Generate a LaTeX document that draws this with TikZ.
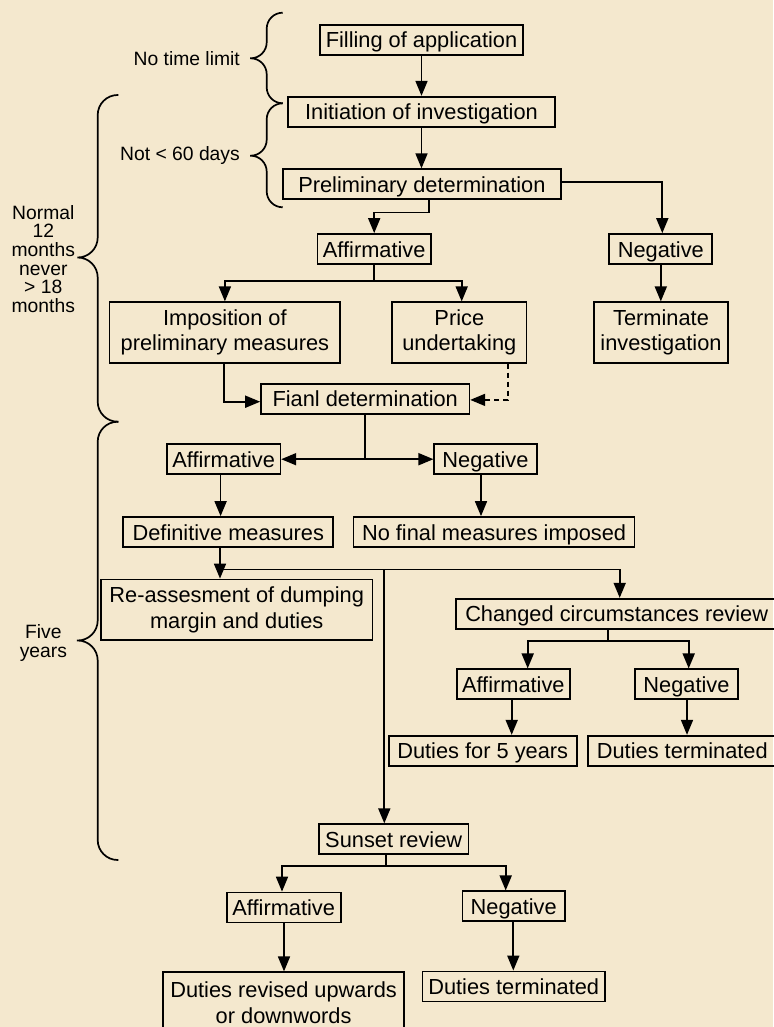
\documentclass[tikz,border=0pt]{standalone}
\usepackage{fontspec}
\setmainfont{Liberation Sans}
\usetikzlibrary{arrows.meta}
\definecolor{paper}{HTML}{F4E8CE}
\newcommand*{\picW}{773}
\newcommand*{\picH}{1027}

\tikzset{
  box/.style={draw, line width=1.7pt, inner xsep=0pt, inner ysep=4.5pt, text height=18.5pt, text depth=2.5pt},
  twobox/.style={draw, line width=1.7pt, align=center, inner xsep=0pt, inner ysep=0pt, minimum height=60.5pt},
  flow/.style={line width=1.7pt, -{Triangle[length=15pt,width=12pt]}},
  note/.style={font=\fontsize{19.3}{18.7}\selectfont, align=center, inner sep=0pt},
  curly/.style={line width=1.7pt},
}

\begin{document}
\begin{tikzpicture}[x=1pt, y=-1pt, font=\fontsize{21.8}{25.5}\selectfont]
  \path[use as bounding box, fill=paper] (0,0) rectangle (\picW,\picH);

  % braces on the left
  \draw[curly, rounded corners=16pt] (282.7,12.7) -- (266.7,12.7) -- (266.7,58.3) -- (250,58.3)
       (250,58.3) -- (266.7,58.3) -- (266.7,103.3) -- (282.7,103.3);
  \draw[curly, rounded corners=16pt] (282.7,103.3) -- (266.7,103.3) -- (266.7,155.7) -- (250,155.7)
       (250,155.7) -- (266.7,155.7) -- (266.7,207.3) -- (282.7,207.3);
  \draw[curly, rounded corners=20pt] (118.3,95) -- (97.7,95) -- (97.7,257.5) -- (77.3,257.5)
       (77.3,257.5) -- (97.7,257.5) -- (97.7,421.7) -- (118.3,421.7);
  \draw[curly, rounded corners=20pt] (118.3,421.7) -- (97.7,421.7) -- (97.7,640.5) -- (76.8,640.5)
       (76.8,640.5) -- (97.7,640.5) -- (97.7,860) -- (118.3,860);

  \node[note, anchor=east] (nolimit) at (240,58.3) {No time limit};
  \node[note, anchor=east] (sixty) at (240,155.7) {Not < 60 days};
  \node[note] (normal) at (43.3,259) {Normal\\12\\months\\never\\> 18\\months};
  \node[note] (fiveyr) at (43.4,643) {Five\\years};

  % investigation
  \node[box, minimum width=203pt] (fill) at (421.5,40) {Filling of application};
  \node[box, minimum width=267pt] (init) at (421.5,111.7) {Initiation of investigation};
  \node[box, minimum width=278pt] (prelim) at (421.9,184.2) {Preliminary determination};
  \node[box, minimum width=113.5pt] (affA) at (374.2,249) {Affirmative};
  \node[box, minimum width=103pt] (negA) at (660.8,249) {Negative};
  \node[twobox, minimum width=230.7pt] (impos) at (224.9,332.5) {Imposition of\\preliminary measures};
  \node[twobox, minimum width=134.6pt] (price) at (459.3,332.5) {Price\\undertaking};
  \node[twobox, minimum width=134.6pt] (term) at (661,332.5) {Terminate\\investigation};
  \node[box, minimum width=208.3pt] (final) at (365.2,398.9) {Fianl determination};
  \node[box, minimum width=113.5pt] (affB) at (223.6,459.2) {Affirmative};
  \node[box, minimum width=102.4pt] (negB) at (485.5,459.2) {Negative};
  \node[box, minimum width=210pt] (defin) at (228.3,532) {Definitive measures};
  \node[box, minimum width=281pt] (nofinal) at (494.1,532) {No final measures imposed};

  % reviews
  \node[twobox, minimum width=271.3pt] (reass) at (236.7,609.7) {Re-assesment of dumping\\margin and duties};
  \node[box, minimum width=322pt] (changed) at (616.7,613.7) {Changed circumstances review};
  \node[box, minimum width=113.3pt] (affC) at (513.3,684.3) {Affirmative};
  \node[box, minimum width=102.4pt] (negC) at (686.5,684.3) {Negative};
  \node[box, minimum width=188pt] (fiveyears) at (482.7,750.7) {Duties for 5 years};
  \node[box, minimum width=189.3pt] (endC) at (682.3,750.7) {Duties terminated};
  \node[box, minimum width=149.3pt] (sunset) at (393.7,839.2) {Sunset review};
  \node[box, minimum width=114pt] (affD) at (283.7,907.5) {Affirmative};
  \node[box, minimum width=102.7pt] (negD) at (513.7,906.3) {Negative};
  \node[twobox, minimum width=240.8pt] (revised) at (283.6,1002.5) {Duties revised upwards\\or downwords};
  \node[box, minimum width=182.7pt] (endD) at (513.7,986.4) {Duties terminated};

  % straight arrows
  \foreach \a/\b/\s in {fill/init/0, init/prelim/0, negA/term/0, affB/defin/-3,
                        negB/nofinal/-4.5, affC/fiveyears/-1.6, negC/endC/0.5,
                        affD/revised/0.3, negD/endD/-0.4}
    \draw[flow] ([xshift=\s pt]\a.south) -- ([xshift=\s pt]\a.south |- \b.north);

  \draw[flow] ([xshift=7.4pt]prelim.south) -- ++(0,12.5) -| (affA.north);
  \draw[flow] ([yshift=2.5pt]prelim.east) -| ([xshift=1.5pt]negA.north);

  \coordinate (splitA) at ([yshift=-16pt]affA.south);
  \draw[flow] (affA.south) -- (splitA) -| (impos.north);
  \draw[flow] (splitA) -| ([xshift=2.4pt]price.north);

  \draw[flow] ([xshift=-1pt]impos.south) |- ([yshift=-2.8pt]final.west);
  \draw[flow, dash pattern=on 5pt off 4pt] ([xshift=-19.6pt]price.south east) |- ([yshift=-1pt]final.east);

  \draw[flow] (final.south) |- (affB.east);
  \draw[flow] (final.south) |- (negB.west);

  \coordinate (splitB) at ([xshift=-8.3pt, yshift=-21.6pt]defin.south);
  \coordinate (sunsetin) at ([xshift=-9.4pt]sunset.north);
  \draw[flow] (splitB |- defin.south) -- (splitB |- reass.north);
  \draw[flow] (splitB) -| ([xshift=3pt]changed.north);
  \draw[flow] (sunsetin |- splitB) -- (sunsetin);

  \coordinate (splitC) at ([xshift=-8.4pt, yshift=-11.7pt]changed.south);
  \draw[flow] (splitC |- changed.south) -- (splitC) -| ([xshift=14.4pt]affC.north);
  \draw[flow] (splitC) -| ([xshift=2.2pt]negC.north);

  \coordinate (splitD) at ([xshift=-8pt, yshift=-10.8pt]sunset.south);
  \draw[flow] (splitD |- sunset.south) -- (splitD) -| ([xshift=-1.7pt]affD.north);
  \draw[flow] (splitD) -| ([xshift=-8pt]negD.north);
\end{tikzpicture}
\end{document}
